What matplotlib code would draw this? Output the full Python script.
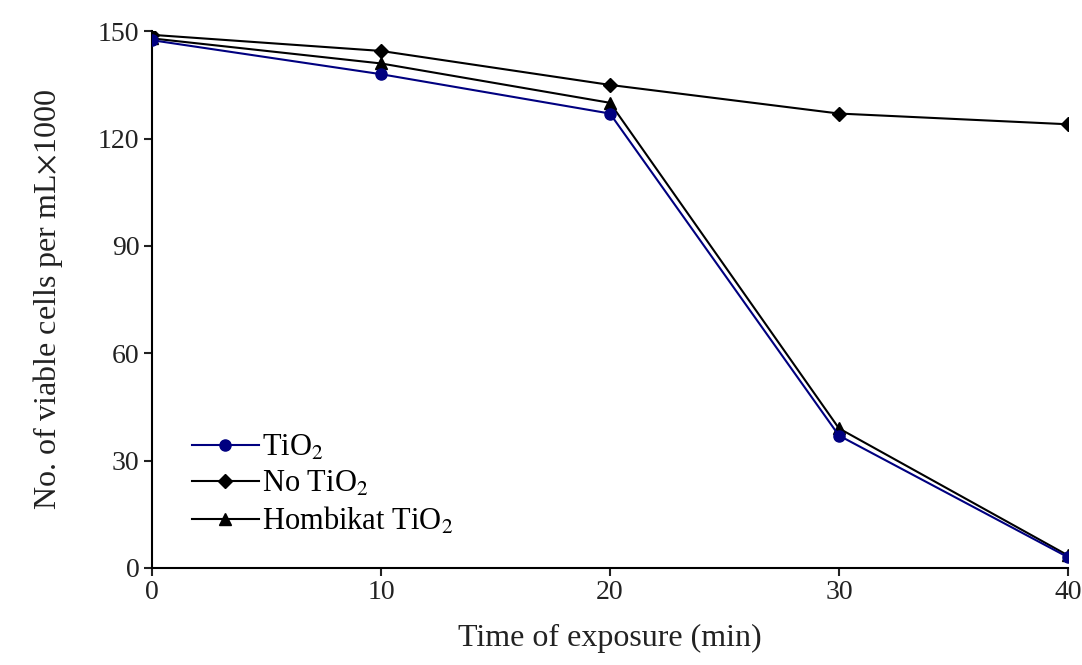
import matplotlib
matplotlib.use("Agg")
import matplotlib.pyplot as plt

time_min = [0, 10, 20, 30, 40]
tio2 = [147.5, 138, 127, 37, 3]
no_tio2 = [149, 144.5, 135, 127, 124]
hombikat = [148, 141, 130, 39, 3.5]

plt.rcParams["font.family"] = ["Liberation Serif", "DejaVu Serif"]
plt.rcParams["mathtext.fontset"] = "stix"

fig = plt.figure(figsize=(10.82, 6.65), dpi=100)
ax = fig.add_axes([0.1405, 0.146, 0.8465, 0.807])

ax.plot(time_min, hombikat, color="black", lw=1.5, marker="^", ms=8,
        label=r"Hombikat TiO$_2$", zorder=2)
ax.plot(time_min, no_tio2, color="black", lw=1.5, marker="D", ms=7,
        label=r"No TiO$_2$", zorder=3)
ax.plot(time_min, tio2, color="#000080", lw=1.5, marker="o", ms=8,
        label=r"TiO$_2$", zorder=4)

ax.set_xlim(0, 40)
ax.set_ylim(0, 150)
ax.set_xticks([0, 10, 20, 30, 40])
ax.set_yticks([0, 30, 60, 90, 120, 150])
for s in ["top", "right"]:
    ax.spines[s].set_visible(False)
for s in ["left", "bottom"]:
    ax.spines[s].set_linewidth(1.5)
ax.tick_params(direction="out", length=6, width=1.5, labelsize=20, colors="#222222", pad=3)
ax.set_xlabel("Time of exposure (min)", fontsize=23, labelpad=13, color="#222222")
ax.set_ylabel(r"No. of viable cells per mL$\times$1000", fontsize=23, labelpad=24, color="#222222")

h, l = ax.get_legend_handles_labels()
ax.legend(h[::-1], l[::-1], loc="lower left", bbox_to_anchor=(0.03, 0.035),
          frameon=False, fontsize=22, handlelength=2.2, handletextpad=0.1,
          labelspacing=0.22, borderaxespad=0)

fig.savefig("out.png", dpi=100)
